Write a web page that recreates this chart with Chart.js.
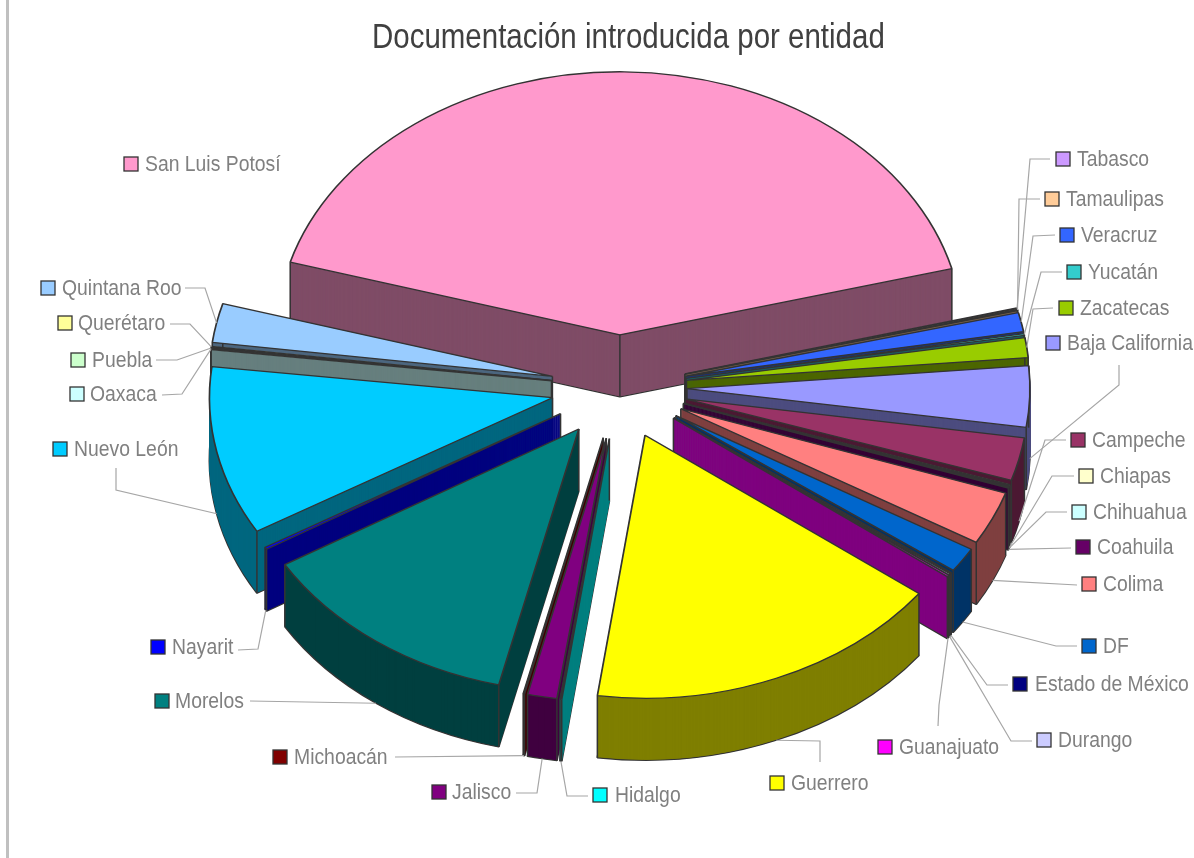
<!DOCTYPE html>
<html>
<head>
<meta charset="utf-8">
<title>Documentación introducida por entidad</title>
<script src="https://cdn.jsdelivr.net/npm/chart.js@4"></script>
<style>
  html, body { margin: 0; padding: 0; background: #fff; overflow: hidden; }
  #wrap { position: relative; width: 1194px; height: 858px; }
  #stripe { position: absolute; left: 6px; top: 0; width: 3px; height: 858px; background: #c0c0c0; }
</style>
</head>
<body>
<div id="wrap">
  <div id="stripe"></div>
  <canvas id="chartEntidad" width="1194" height="858"></canvas>
</div>
<script>
var titleText = 'Documentación introducida por entidad';

var entidades = ['Baja California', 'Campeche', 'Chiapas', 'Chihuahua', 'Coahuila', 'Colima', 'DF',
  'Estado de México', 'Durango', 'Guanajuato', 'Guerrero', 'Hidalgo', 'Jalisco', 'Michoacán', 'Morelos',
  'Nayarit', 'Nuevo León', 'Oaxaca', 'Puebla', 'Querétaro', 'Quintana Roo', 'San Luis Potosí', 'Tabasco',
  'Tamaulipas', 'Veracruz', 'Yucatán', 'Zacatecas'];

// percent of the documents
var porcentajes = [3.75, 2.64, 0.06, 0.06, 0.08, 3.28, 1.53,
  0.08, 0.08, 0.11, 16.94, 0.08, 1.39, 0.06, 12.64,
  0.14, 10.36, 0.06, 0.06, 0.06, 2.39, 41.50, 0.08,
  0.08, 1.17, 0.11, 1.22];

var colores = ['#9999FF', '#993366', '#FFFFCC', '#CCFFFF', '#660066', '#FF8080', '#0066CC',
  '#000080', '#CCCCFF', '#FF00FF', '#FFFF00', '#00FFFF', '#800080', '#800000', '#008080',
  '#0000FF', '#00CCFF', '#CCFFFF', '#CCFFCC', '#FFFF99', '#99CCFF', '#FF99CC', '#CC99FF',
  '#FFCC99', '#3366FF', '#33CCCC', '#99CC00'];

// label placement: swatch left, text left, centre y, then the elbow points of the leader
var etiquetas = [
  { sx: 1046, tx: 1067, y: 343, line: [[1119, 365], [1119, 385]] },
  { sx: 1071, tx: 1092, y: 440, line: [[1066, 440], [1045, 440]] },
  { sx: 1079, tx: 1100, y: 476, line: [[1074, 476], [1052, 476]] },
  { sx: 1072, tx: 1093, y: 512, line: [[1067, 512], [1046, 512]] },
  { sx: 1076, tx: 1097, y: 547, line: [[1071, 548]] },
  { sx: 1082, tx: 1103, y: 584, line: [[1077, 585]] },
  { sx: 1082, tx: 1103, y: 646, line: [[1077, 646], [1056, 646]] },
  { sx: 1013, tx: 1035, y: 684, line: [[1008, 685], [987, 685]] },
  { sx: 1037, tx: 1058, y: 740, line: [[1032, 741], [1011, 741]] },
  { sx: 878, tx: 899, y: 747, line: [[938, 726], [939, 705]] },
  { sx: 770, tx: 791, y: 783, line: [[820, 762], [820, 741]] },
  { sx: 593, tx: 615, y: 795, line: [[588, 796], [567, 796]] },
  { sx: 432, tx: 452, y: 792, line: [[516, 793], [537, 793]] },
  { sx: 273, tx: 294, y: 757, line: [[395, 757]] },
  { sx: 155, tx: 175, y: 701, line: [[250, 701]] },
  { sx: 151, tx: 172, y: 647, line: [[238, 650], [258, 649]] },
  { sx: 53, tx: 74, y: 449, line: [[116, 468], [116, 490]] },
  { sx: 70, tx: 90, y: 394, line: [[162, 395], [182, 394]] },
  { sx: 71, tx: 92, y: 360, line: [[156, 360], [177, 360]] },
  { sx: 58, tx: 78, y: 323, line: [[170, 324], [190, 324]] },
  { sx: 41, tx: 62, y: 288, line: [[185, 288], [205, 288]] },
  { sx: 124, tx: 145, y: 164, line: null },
  { sx: 1056, tx: 1077, y: 159, line: [[1050, 159], [1030, 159]] },
  { sx: 1045, tx: 1066, y: 199, line: [[1040, 199], [1019, 199]] },
  { sx: 1060, tx: 1081, y: 235, line: [[1055, 235], [1033, 236]] },
  { sx: 1067, tx: 1088, y: 272, line: [[1062, 272], [1041, 272]] },
  { sx: 1059, tx: 1080, y: 308, line: [[1053, 308], [1033, 309]] }
];

var squash = 0.767;   // vertical flattening of the pie
var grosor = 62;      // height of the extruded side
var explode = 68;     // how far every slice is pulled out
var edgeColor = '#333333';
var fontName = '"Liberation Sans", Arial, sans-serif';

function oscuro(hex) {
  var n = parseInt(hex.slice(1), 16);
  return 'rgb(' + ((n >> 16) >> 1) + ',' + (((n >> 8) & 255) >> 1) + ',' + ((n & 255) >> 1) + ')';
}

function midAngle(arc) { return (arc.startAngle + arc.endAngle) / 2; }

// a point of the flattened, exploded pie, dz pixels below the top face
function pt(arc, angle, r, dz) {
  var m = midAngle(arc);
  return [
    arc.x + Math.cos(m) * explode + Math.cos(angle) * r,
    arc.y + squash * (Math.sin(m) * explode + Math.sin(angle) * r) + dz
  ];
}

function drawFace(ctx, arc, dz, fill, stroke, width) {
  var base = arc.options;
  var m = midAngle(arc);
  arc.options = Object.assign({}, base, { backgroundColor: fill, borderColor: stroke, borderWidth: width, offset: 0 });
  ctx.save();
  ctx.translate(arc.x + Math.cos(m) * explode, arc.y + squash * Math.sin(m) * explode + dz);
  ctx.scale(1, squash);
  ctx.translate(-arc.x, -arc.y);
  arc.draw(ctx);
  ctx.restore();
  arc.options = base;
}

function segment(ctx, a, b) {
  ctx.beginPath();
  ctx.moveTo(a[0], a[1]);
  ctx.lineTo(b[0], b[1]);
  ctx.stroke();
}

// the reference font is narrower than anything installed, so squeeze it
function narrowText(ctx, text, x, y, font, stretch) {
  ctx.save();
  ctx.translate(x, y);
  ctx.scale(stretch, 1);
  ctx.font = font;
  ctx.fillText(text, 0, 0);
  ctx.restore();
}

var pie3d = {
  id: 'pie3d',
  beforeDatasetsDraw: function (chart) {
    var ctx = chart.ctx;
    var arcs = chart.getDatasetMeta(0).data;
    // back to front: the slices nearest the viewer go last
    var order = arcs.map(function (a, i) { return i; }).sort(function (p, q) {
      return Math.sin(midAngle(arcs[p])) - Math.sin(midAngle(arcs[q]));
    });
    order.forEach(function (i) {
      var arc = arcs[i];
      var dark = oscuro(colores[i]);
      drawFace(ctx, arc, grosor, dark, edgeColor, 1.8);
      for (var dz = grosor - 1; dz > 0; dz--) {
        drawFace(ctx, arc, dz, dark, dark, 1);
      }
      ctx.save();
      ctx.strokeStyle = edgeColor;
      ctx.lineWidth = 1.5;
      [[arc.startAngle, arc.outerRadius], [arc.endAngle, arc.outerRadius], [midAngle(arc), 0]].forEach(function (e) {
        segment(ctx, pt(arc, e[0], e[1], 0), pt(arc, e[0], e[1], grosor));
      });
      ctx.restore();
      drawFace(ctx, arc, 0, colores[i], edgeColor, 1.7);
    });
    return false;
  },
  afterDraw: function (chart) {
    var ctx = chart.ctx;
    var arcs = chart.getDatasetMeta(0).data;
    ctx.save();
    ctx.textBaseline = 'middle';
    ctx.textAlign = 'left';

    ctx.fillStyle = '#404040';
    narrowText(ctx, titleText, 372, 38, '35px ' + fontName, 0.842);

    etiquetas.forEach(function (e, i) {
      var arc = arcs[i];
      if (e.line) {
        var m = midAngle(arc);
        // leaders land on the lower rim where the rim faces the viewer
        var end = pt(arc, m, arc.outerRadius, Math.sin(m) > 0 ? grosor : 0);
        ctx.strokeStyle = '#a6a6a6';
        ctx.lineWidth = 1.2;
        ctx.beginPath();
        ctx.moveTo(e.line[0][0], e.line[0][1]);
        e.line.slice(1).forEach(function (p) { ctx.lineTo(p[0], p[1]); });
        ctx.lineTo(end[0], end[1]);
        ctx.stroke();
      }
      ctx.fillStyle = colores[i];
      ctx.strokeStyle = edgeColor;
      ctx.lineWidth = 1.3;
      ctx.fillRect(e.sx, e.y - 7, 14, 14);
      ctx.strokeRect(e.sx, e.y - 7, 14, 14);
      ctx.fillStyle = '#808080';
      narrowText(ctx, entidades[i], e.tx, e.y + 1, '22px ' + fontName, 0.88);
    });
    ctx.restore();
  }
};

var ctx = document.getElementById('chartEntidad');
var chartEntidad = new Chart(ctx, {
  type: 'pie',
  data: {
    labels: entidades,
    datasets: [{
      label: 'Documentación',
      data: porcentajes,
      backgroundColor: colores,
      borderWidth: 0
    }]
  },
  options: {
    responsive: false,
    animation: false,
    rotation: 85,
    radius: 343,
    layout: { padding: { left: 44, bottom: 84 } },
    plugins: {
      legend: { display: false },
      title: { display: false },
      tooltip: { enabled: false }
    }
  },
  plugins: [pie3d]
});
</script>
</body>
</html>
